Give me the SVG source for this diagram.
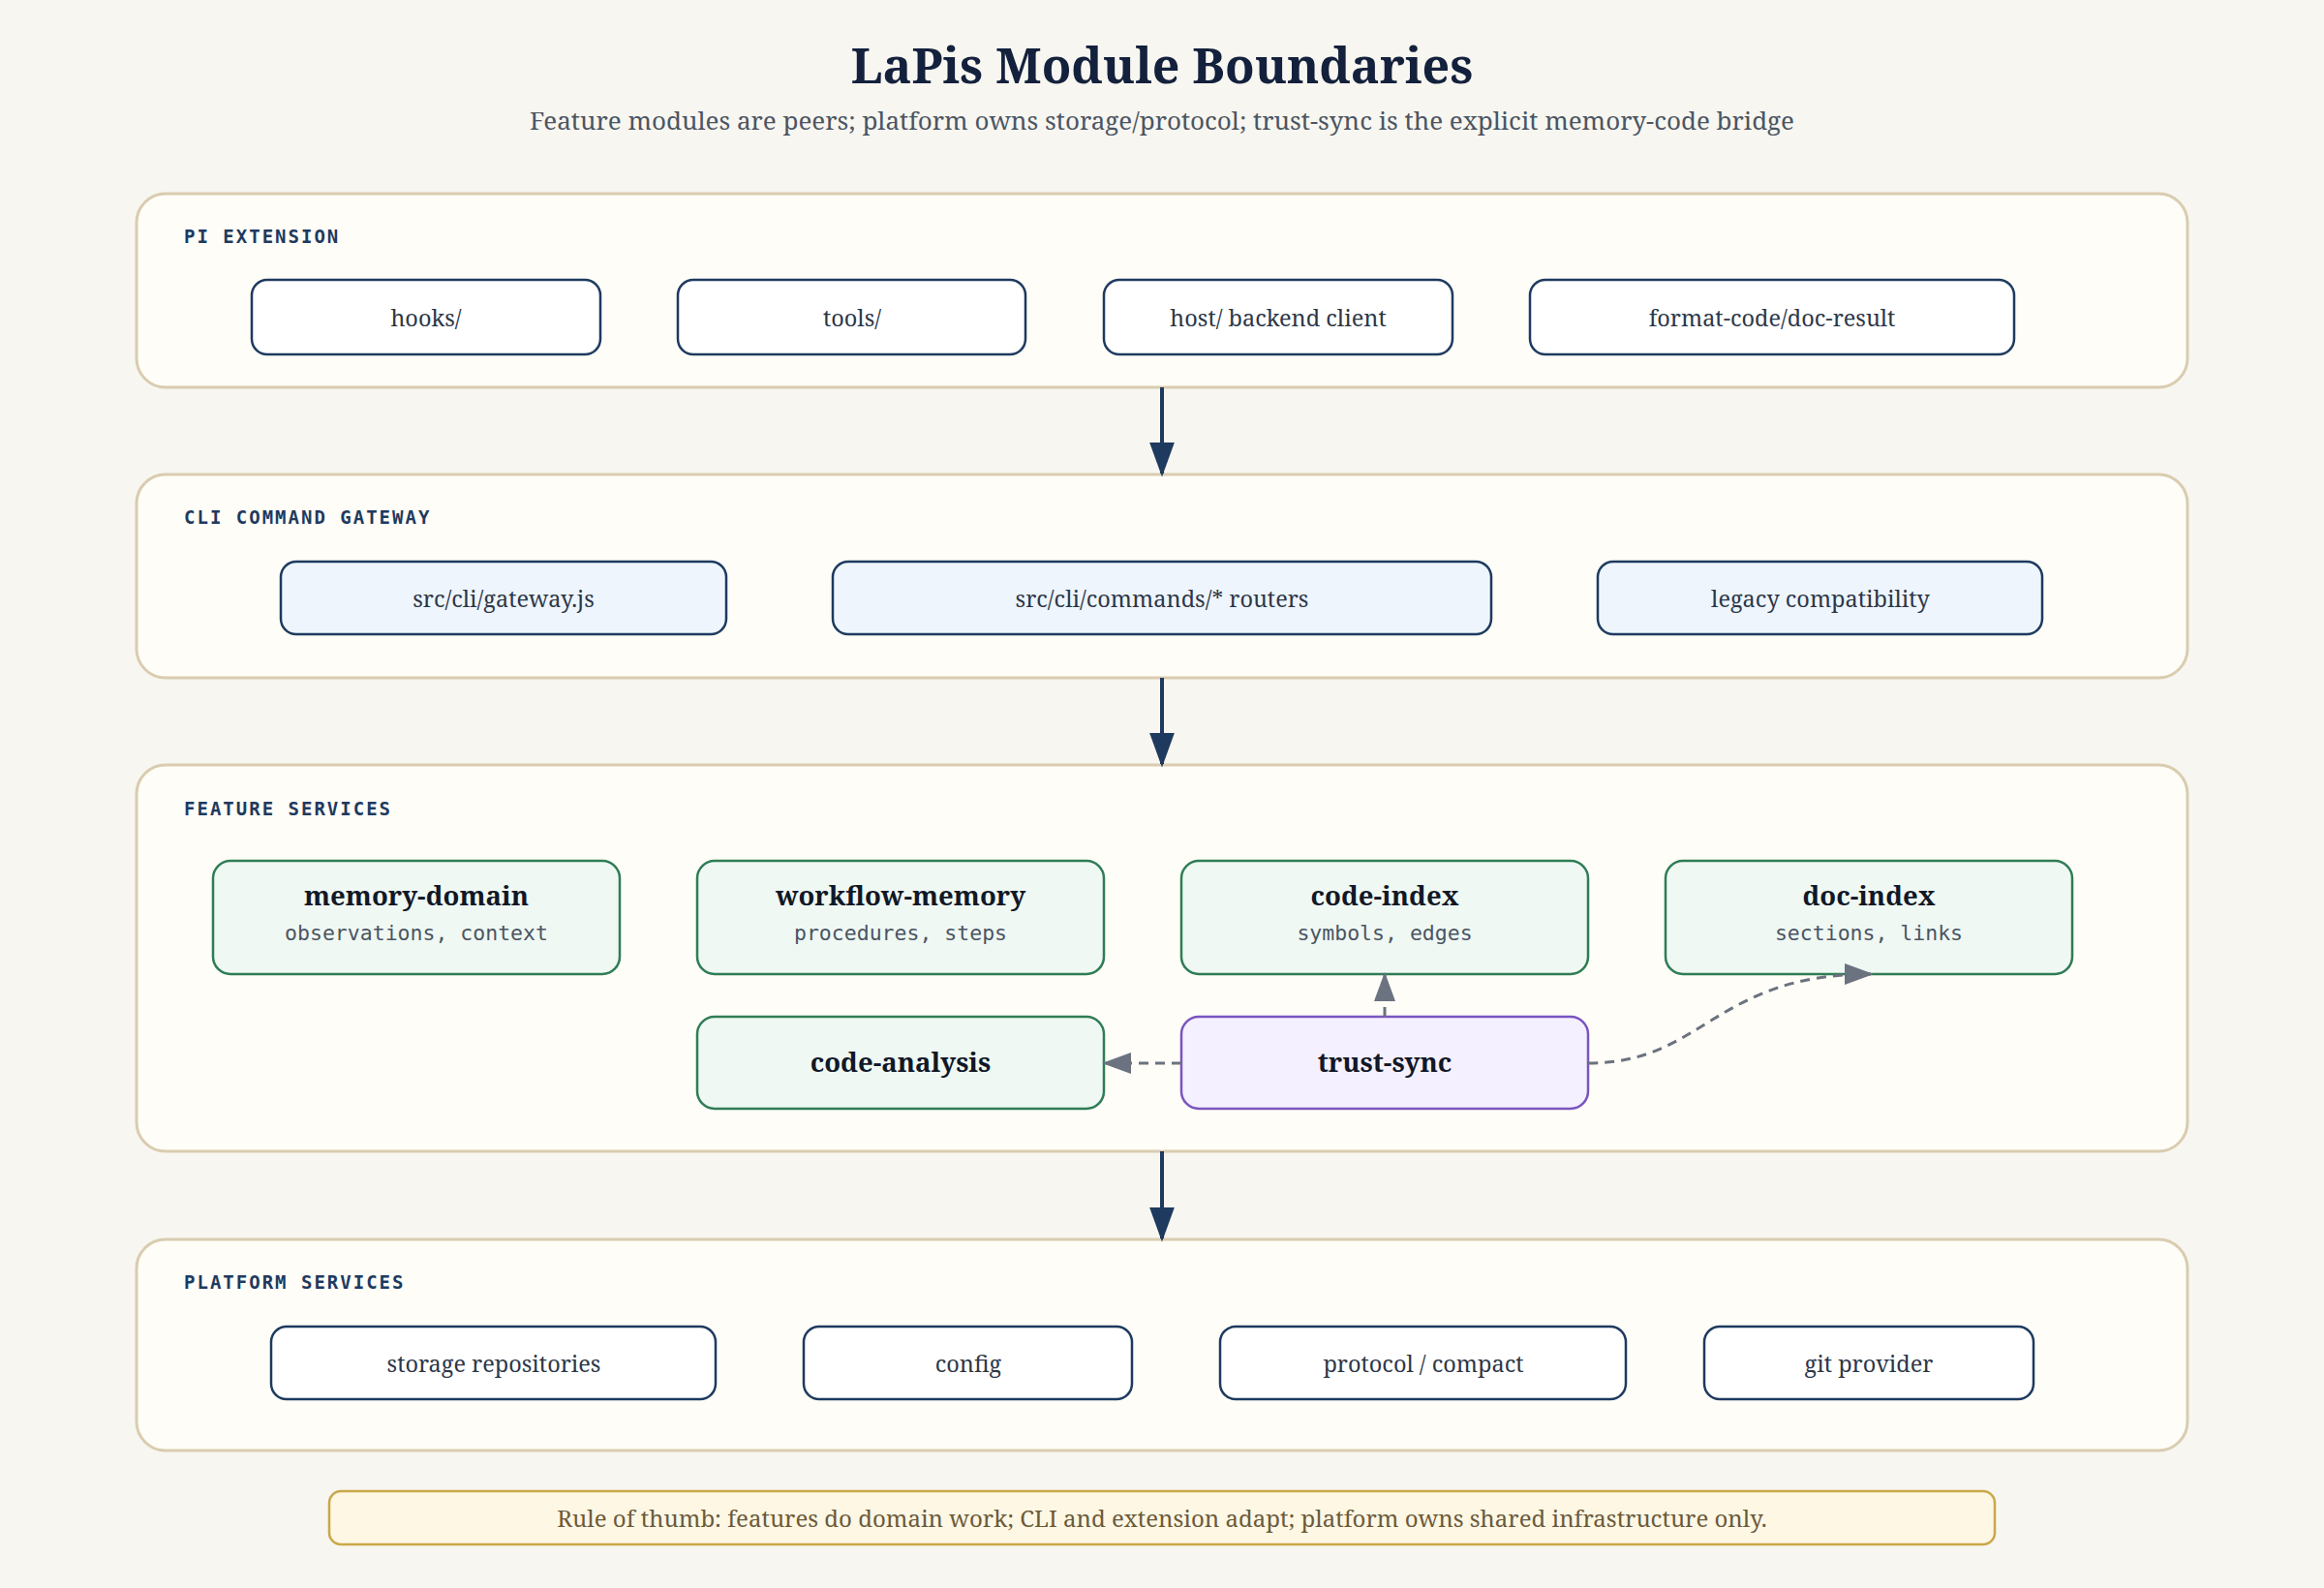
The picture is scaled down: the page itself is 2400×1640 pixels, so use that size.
<svg xmlns="http://www.w3.org/2000/svg" width="2400" height="1640" viewBox="0 0 2400 1640">
<style>
.serif{font-family:"Noto Serif","DejaVu Serif",serif}
.mono{font-family:"DejaVu Sans Mono","Liberation Mono",monospace}
.panel{fill:#fefdf7;stroke:#d9ccb0;stroke-width:3}
.plabel{font-size:19px;font-weight:bold;fill:#1e3a5f;letter-spacing:2px}
.wnode{fill:#ffffff;stroke:#1e3a5f;stroke-width:2.5}
.bnode{fill:#eef5fd;stroke:#1e3a5f;stroke-width:2.5}
.gnode{fill:#eff8f3;stroke:#2f7d55;stroke-width:2.5}
.pnode{fill:#f5f0ff;stroke:#7a55c0;stroke-width:2.5}
.nt{font-size:23.5px;fill:#2d3748;text-anchor:middle}
.ft{font-size:27.5px;font-weight:bold;fill:#111827;text-anchor:middle}
.fs{font-size:21.5px;fill:#4b5563;text-anchor:middle}
.solid{stroke:#1e3a5f;stroke-width:4;fill:none}
.dash{stroke:#6b7280;stroke-width:3;fill:none;stroke-dasharray:10 7}
</style>
<defs>
<marker id="ahd" viewBox="0 0 10 10" refX="9" refY="5" markerWidth="30" markerHeight="22" orient="auto" markerUnits="userSpaceOnUse" preserveAspectRatio="none"><path d="M0,0 L10,5 L0,10 Z" fill="#6b7280"/></marker>
<marker id="ahs" viewBox="0 0 10 10" refX="9" refY="5" markerWidth="36" markerHeight="26" orient="auto" markerUnits="userSpaceOnUse" preserveAspectRatio="none"><path d="M0,0 L10,5 L0,10 Z" fill="#1e3a5f"/></marker>
</defs>
<rect width="2400" height="1640" fill="#f8f6f0"/>
<text x="1200" y="86" class="serif" font-size="50" font-weight="bold" fill="#14213d" text-anchor="middle">LaPis Module Boundaries</text>
<text x="1200" y="134" class="serif" font-size="26" fill="#4b5563" text-anchor="middle">Feature modules are peers; platform owns storage/protocol; trust-sync is the explicit memory-code bridge</text>

<g id="panel-pi">
<rect x="141" y="200" width="2118" height="200" rx="30" class="panel"/>
<text x="190" y="251" class="mono plabel">PI EXTENSION</text>
</g>
<g id="n-hooks"><rect x="260" y="289" width="360" height="77" rx="16" class="wnode"/><text x="440" y="337" class="serif nt">hooks/</text></g>
<g id="n-tools"><rect x="700" y="289" width="359" height="77" rx="16" class="wnode"/><text x="880" y="337" class="serif nt">tools/</text></g>
<g id="n-host"><rect x="1140" y="289" width="360" height="77" rx="16" class="wnode"/><text x="1320" y="337" class="serif nt">host/ backend client</text></g>
<g id="n-format"><rect x="1580" y="289" width="500" height="77" rx="16" class="wnode"/><text x="1830" y="337" class="serif nt">format-code/doc-result</text></g>

<g id="panel-cli">
<rect x="141" y="490" width="2118" height="210" rx="30" class="panel"/>
<text x="190" y="541" class="mono plabel">CLI COMMAND GATEWAY</text>
</g>
<g id="n-gateway"><rect x="290" y="580" width="460" height="75" rx="16" class="bnode"/><text x="520" y="627" class="serif nt">src/cli/gateway.js</text></g>
<g id="n-commands"><rect x="860" y="580" width="680" height="75" rx="16" class="bnode"/><text x="1200" y="627" class="serif nt">src/cli/commands/* routers</text></g>
<g id="n-legacy"><rect x="1650" y="580" width="459" height="75" rx="16" class="bnode"/><text x="1880" y="627" class="serif nt">legacy compatibility</text></g>

<g id="panel-features">
<rect x="141" y="790" width="2118" height="399" rx="30" class="panel"/>
<text x="190" y="842" class="mono plabel">FEATURE SERVICES</text>
</g>
<g id="n-memory"><rect x="220" y="889" width="420" height="117" rx="18" class="gnode"/><text x="430" y="935" class="serif ft">memory-domain</text><text x="430" y="971" class="mono fs">observations, context</text></g>
<g id="n-workflow"><rect x="720" y="889" width="420" height="117" rx="18" class="gnode"/><text x="930" y="935" class="serif ft">workflow-memory</text><text x="930" y="971" class="mono fs">procedures, steps</text></g>
<g id="n-codeindex"><rect x="1220" y="889" width="420" height="117" rx="18" class="gnode"/><text x="1430" y="935" class="serif ft">code-index</text><text x="1430" y="971" class="mono fs">symbols, edges</text></g>
<g id="n-docindex"><rect x="1720" y="889" width="420" height="117" rx="18" class="gnode"/><text x="1930" y="935" class="serif ft">doc-index</text><text x="1930" y="971" class="mono fs">sections, links</text></g>
<g id="n-analysis"><rect x="720" y="1050" width="420" height="95" rx="18" class="gnode"/><text x="930" y="1107" class="serif ft">code-analysis</text></g>
<g id="n-trust"><rect x="1220" y="1050" width="420" height="95" rx="18" class="pnode"/><text x="1430" y="1107" class="serif ft">trust-sync</text></g>

<g id="panel-platform">
<rect x="141" y="1280" width="2118" height="218" rx="30" class="panel"/>
<text x="190" y="1331" class="mono plabel">PLATFORM SERVICES</text>
</g>
<g id="n-storage"><rect x="280" y="1370" width="459" height="75" rx="16" class="wnode"/><text x="510" y="1417" class="serif nt">storage repositories</text></g>
<g id="n-config"><rect x="830" y="1370" width="339" height="75" rx="16" class="wnode"/><text x="1000" y="1417" class="serif nt">config</text></g>
<g id="n-protocol"><rect x="1260" y="1370" width="419" height="75" rx="16" class="wnode"/><text x="1470" y="1417" class="serif nt">protocol / compact</text></g>
<g id="n-git"><rect x="1760" y="1370" width="340" height="75" rx="16" class="wnode"/><text x="1930" y="1417" class="serif nt">git provider</text></g>

<g id="note">
<rect x="340" y="1540" width="1720" height="55" rx="12" fill="#fef7e4" stroke="#c9a84a" stroke-width="2.5"/>
<text x="1200" y="1577" class="serif" font-size="24" fill="#6b5a3a" text-anchor="middle">Rule of thumb: features do domain work; CLI and extension adapt; platform owns shared infrastructure only.</text>
</g>

<g id="connectors">
<line x1="1200" y1="400" x2="1200" y2="489" class="solid" marker-end="url(#ahs)"/>
<line x1="1200" y1="700" x2="1200" y2="789" class="solid" marker-end="url(#ahs)"/>
<line x1="1200" y1="1189" x2="1200" y2="1279" class="solid" marker-end="url(#ahs)"/>
<line x1="1430" y1="1050" x2="1430" y2="1007" class="dash" marker-end="url(#ahd)"/>
<line x1="1220" y1="1098" x2="1141" y2="1098" class="dash" marker-end="url(#ahd)"/>
<path d="M1640,1098 C1760,1098 1770,1006 1932,1006" class="dash" marker-end="url(#ahd)"/>
</g>
</svg>
